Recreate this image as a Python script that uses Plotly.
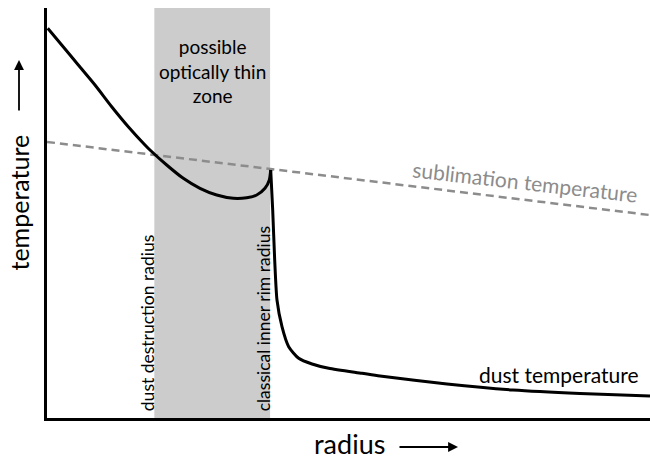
import plotly.graph_objects as go

# Dust temperature curve: inner part (down to the rim peak)
inner_x = [0.12, 2.44, 5.19, 7.96, 10.73, 13.48, 16.25, 17.08, 19.85, 22.60, 25.37, 28.14,
           30.90, 33.12, 34.78, 36.15, 36.87, 37.10]
inner_y = [95.05, 90.98, 86.10, 81.22, 75.93, 71.05, 66.59, 65.37, 61.71, 58.46, 56.02, 54.39,
           53.59, 53.73, 54.39, 56.02, 58.05, 60.49]
# Dust temperature curve: outer part (after the rim)
outer_x = [37.10, 37.43, 37.76, 38.14, 38.97, 40.08, 41.74, 43.95, 46.72, 52.24, 55.22, 66.33,
           77.28, 88.39, 100.0]
outer_y = [60.49, 50.73, 38.54, 28.78, 22.27, 17.39, 14.56, 13.17, 12.12, 10.90, 10.24, 8.29,
           6.83, 5.98, 5.37]
# Sublimation temperature (dashed straight line)
subl_x = [0.0, 100.0]
subl_y = [67.34, 49.5]
# Optically thin zone boundaries
zone_x = [17.8, 37.0]

FONT = "Lato"
W, H = 650, 459
L, R, T, B = 47, 0, 8, 41
pw, ph = W - L - R, H - T - B


def px(xp):
    return (xp - L) / pw


def py(yp):
    return (H - B - yp) / ph


fig = go.Figure()

fig.add_shape(type="rect", x0=zone_x[0], x1=zone_x[1], y0=0, y1=100,
              xref="x", yref="y", fillcolor="#cccccc", line_width=0, layer="below")

fig.add_trace(go.Scatter(x=subl_x, y=subl_y, mode="lines",
                         line=dict(color="#8c8c8c", width=2.5, dash="8px,5px"),
                         hoverinfo="skip"))
fig.add_trace(go.Scatter(x=inner_x, y=inner_y, mode="lines",
                         line=dict(color="black", width=3, shape="spline", smoothing=0.6),
                         hoverinfo="skip"))
fig.add_trace(go.Scatter(x=outer_x, y=outer_y, mode="lines",
                         line=dict(color="black", width=3, shape="spline", smoothing=0.6),
                         hoverinfo="skip"))

ann = [
    dict(x=27.5, y=84.6, text="possible<br>optically thin<br>zone", font=dict(size=19, color="black")),
    dict(x=79.3, y=57.6, text="sublimation temperature", textangle=6.5, font=dict(size=21, color="#8c8c8c")),
    dict(x=84.8, y=10.5, text="dust temperature", font=dict(size=21, color="black")),
    dict(x=16.8, y=23.2, text="dust destruction radius", textangle=-90, font=dict(size=17.5, color="black")),
    dict(x=35.85, y=24.1, text="classical inner rim radius", textangle=-90, font=dict(size=17.5, color="black")),
]
annotations = []
for a in ann:
    a.update(xref="x", yref="y", showarrow=False, xanchor="center", yanchor="middle")
    a["font"]["family"] = FONT
    annotations.append(a)

# axis titles
annotations.append(dict(x=px(18), y=py(202.5), xref="paper", yref="paper", text="temperature",
                        textangle=-90, showarrow=False, xanchor="center", yanchor="middle",
                        font=dict(family=FONT, size=25, color="black")))
annotations.append(dict(x=px(349), y=py(443.6), xref="paper", yref="paper", text="radius",
                        showarrow=False, xanchor="center", yanchor="middle",
                        font=dict(family=FONT, size=27, color="black")))
# axis-title arrows
annotations.append(dict(x=px(19), y=py(60), xref="paper", yref="paper", text="",
                        showarrow=True, ax=0, ay=52, arrowhead=2, arrowsize=1.1, arrowwidth=1.8,
                        arrowcolor="black", standoff=0, startstandoff=0))
annotations.append(dict(x=px(458), y=py(447), xref="paper", yref="paper", text="",
                        showarrow=True, ax=-60, ay=0, arrowhead=2, arrowsize=1.1, arrowwidth=1.8,
                        arrowcolor="black", standoff=0, startstandoff=0))

fig.update_layout(
    width=W, height=H,
    margin=dict(l=L, r=R, t=T, b=B),
    paper_bgcolor="white", plot_bgcolor="white",
    showlegend=False,
    annotations=annotations,
    xaxis=dict(range=[0, 100], showgrid=False, zeroline=False, showticklabels=False,
               ticks="", showline=True, linecolor="black", linewidth=3),
    yaxis=dict(range=[0, 100], showgrid=False, zeroline=False, showticklabels=False,
               ticks="", showline=True, linecolor="black", linewidth=3),
)

fig.write_html("out.html", config={"displayModeBar": False},
               post_script="document.body.style.margin='0px';")
